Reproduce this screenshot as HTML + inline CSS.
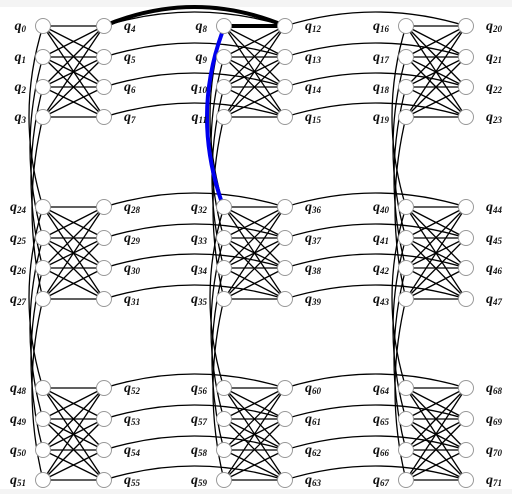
<!DOCTYPE html>
<html><head><meta charset="utf-8"><style>
body{margin:0;background:#fff}
svg{display:block}
text{font-family:"Liberation Serif",serif;font-style:italic;font-weight:bold;font-size:14px;fill:#111}
</style></head><body>
<svg id="g" width="512" height="494">
<rect x="0" y="0" width="512" height="7" fill="#f4f4f4"/>
<rect x="0" y="489" width="512" height="5" fill="#f4f4f4"/>
</svg>
<script>
const cellCols=[[43,104],[224,285],[406,466]];
const rowY=[[26,57,87,117],[207,238,268,299],[388,419,450,480]];
const highlightBlackArc=[4,12];
const highlightBlackLine=[8,12];
const highlightBlue=[8,32];
const svg=document.getElementById('g');
const NS='http://www.w3.org/2000/svg';
function mk(t,a,name){const e=document.createElementNS(NS,t);for(const k in a)e.setAttribute(k,a[k]);


svg.appendChild(e);return e;}
function pos(q){const cell=Math.floor(q/8),r=Math.floor(cell/3),c=cell%3,k=q%8;
return [cellCols[c][k<4?0:1],rowY[r][k%4]];}
const ln={stroke:'#000','stroke-width':1.3,fill:'none'};
for(let cell=0;cell<9;cell++){for(let i=0;i<4;i++)for(let j=0;j<4;j++){
const a=pos(cell*8+i),b=pos(cell*8+4+j);
mk('line',Object.assign({x1:a[0],y1:a[1],x2:b[0],y2:b[1]},ln),'coupler-intra');}}
for(let r=0;r<3;r++)for(let c=0;c<2;c++)for(let k=0;k<4;k++){
const q=(r*3+c)*8+4+k,q2=q+8;const a=pos(q),b=pos(q2);
const mx=(a[0]+b[0])/2;
mk('path',Object.assign({d:`M${a[0]},${a[1]} Q${mx},${a[1]-28} ${b[0]},${b[1]}`},ln),'coupler-horizontal');}
for(let r=0;r<2;r++)for(let c=0;c<3;c++)for(let k=0;k<4;k++){
const q=(r*3+c)*8+k,q2=q+24;const a=pos(q),b=pos(q2);
const my=(a[1]+b[1])/2;
mk('path',Object.assign({d:`M${a[0]},${a[1]} Q${a[0]-28+k*2},${my} ${b[0]},${b[1]}`},ln),'coupler-vertical');}
{const a=pos(highlightBlackArc[0]),b=pos(highlightBlackArc[1]);
mk('path',{d:`M${a[0]},${a[1]} Q${(a[0]+b[0])/2},${a[1]-38} ${b[0]},${b[1]}`,stroke:'#000','stroke-width':4,fill:'none'},'highlight-arc');}
{const a=pos(highlightBlackLine[0]),b=pos(highlightBlackLine[1]);
mk('line',{x1:a[0],y1:a[1],x2:b[0],y2:b[1],stroke:'#000','stroke-width':4},'highlight-line');}
{const a=pos(highlightBlue[0]),b=pos(highlightBlue[1]);
mk('path',{d:`M${a[0]-2},${a[1]+7} Q${a[0]-32},${(a[1]+b[1])/2} ${b[0]-2},${b[1]-4}`,stroke:'#0000ee','stroke-width':4,fill:'none'},'highlight-blue');}
for(let q=0;q<72;q++){const p=pos(q);
mk('circle',{cx:p[0],cy:p[1],r:7.5,fill:'#fff',stroke:'#999','stroke-width':1},'qubit-node');
const left=(q%8)<4;
const t=mk('text',{x:left?p[0]-17:p[0]+20,y:p[1]+4,'text-anchor':left?'end':'start'},'qubit-label');
t.innerHTML='q<tspan font-size="9" dy="2">'+q+'</tspan>';}
</script>
</body></html>
